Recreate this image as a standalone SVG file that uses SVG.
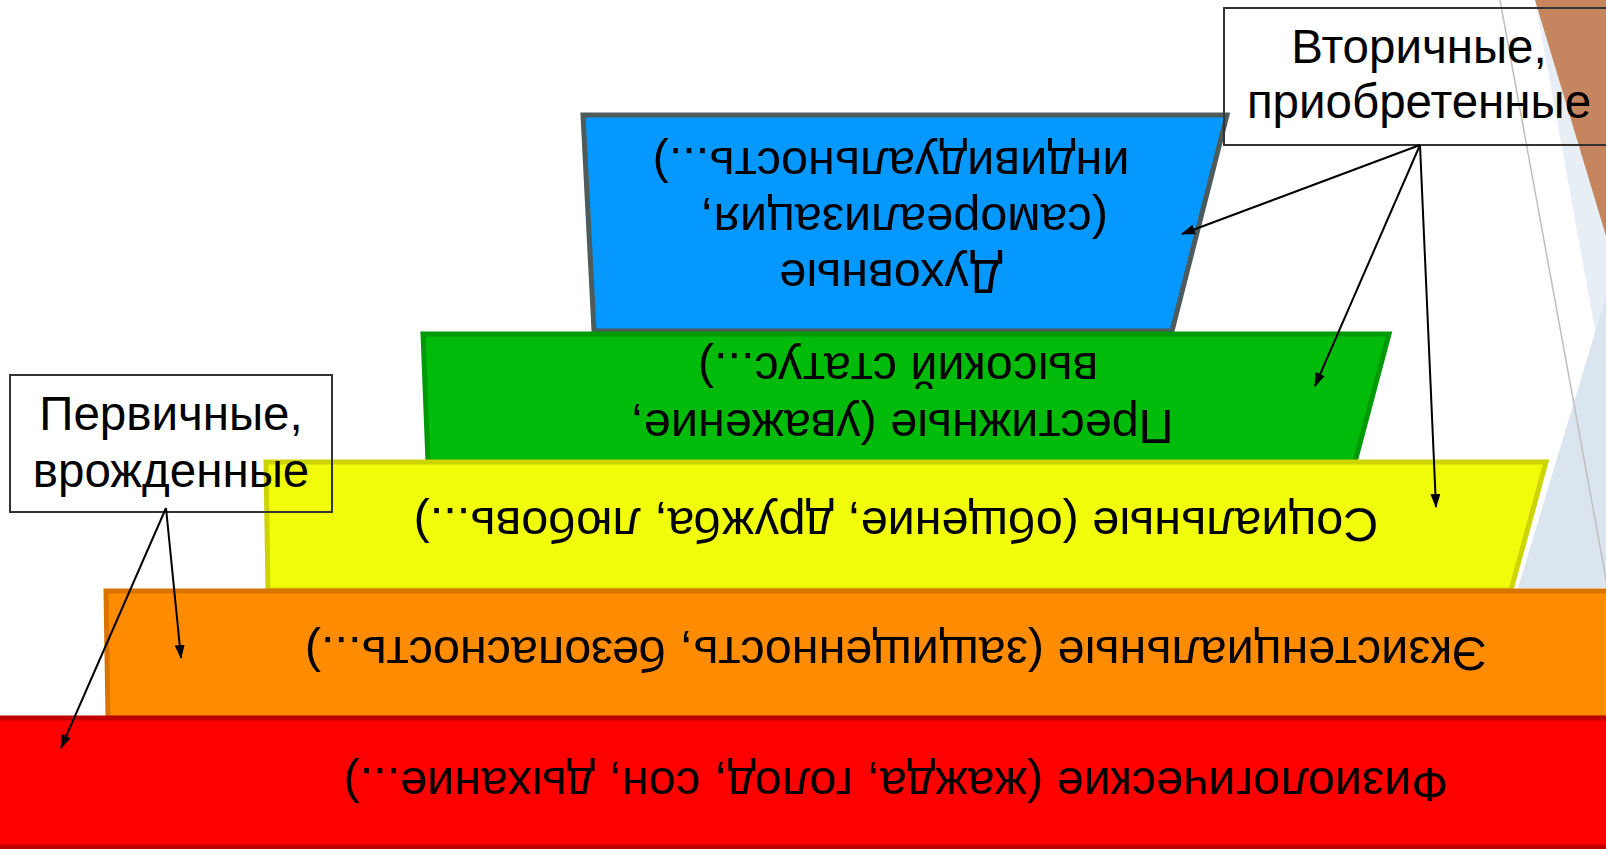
<svg xmlns="http://www.w3.org/2000/svg" width="1606" height="849" viewBox="0 0 1606 849">
<defs>
<style>
.t{font-family:"Liberation Sans",Arial,sans-serif;font-size:48.5px;fill:#000;text-anchor:middle}
.l{font-family:"Liberation Sans",Arial,sans-serif;font-size:47.5px;fill:#000;text-anchor:middle}
.lbl{fill:none;stroke:#333;stroke-width:2}
.con{stroke:#000;stroke-width:2;fill:none;marker-end:url(#ah)}
</style>
<marker id="ah" markerUnits="userSpaceOnUse" markerWidth="14" markerHeight="10" refX="13" refY="5" orient="auto">
<path d="M0,0 L14,5 L0,10 Z" fill="#000"/>
</marker>
</defs>
<rect width="1606" height="849" fill="#fff"/>
<g id="background">
<polygon points="1535,0 1606,0 1606,390" fill="#e8eef6"/>
<polygon points="1606,296 1518,588 1606,588" fill="#dbe5ef"/>
<polygon points="1535,0 1606,0 1606,236" fill="#c5855f"/>
<line x1="1500" y1="0" x2="1608" y2="590" stroke="#bfbfbf" stroke-width="1.5"/>
</g>
<g id="blue">
<polygon points="583,115 1227,115 1172,331 594,331" fill="#0598fe" stroke="#4e5b5b" stroke-width="5"/>
<text class="t" transform="translate(891,260) rotate(180)">Духовные</text>
<text class="t" transform="translate(904,204) rotate(180)">(самореализация,</text>
<text class="t" transform="translate(891,148) rotate(180)">индивидуальность...)</text>
</g>
<g id="green">
<polygon points="423,334 1389,334 1355,462 428,462" fill="#00bb0a" stroke="#009a08" stroke-width="5"/>
<text class="t" transform="translate(902,410) rotate(180)">Престижные (уважение,</text>
<text class="t" transform="translate(898,353) rotate(180)">высокий статус...)</text>
</g>
<g id="yellow">
<polygon points="266,462 1546,462 1511,590 268,590" fill="#f0fc0a" stroke="#cdd400" stroke-width="5"/>
<text class="t" transform="translate(896,508) rotate(180)">Социальные (общение, дружба, любовь...)</text>
</g>
<g id="orange">
<polygon points="106,591 1620,591 1620,718 108,718" fill="#ff8c00" stroke="#d97400" stroke-width="5"/>
<text class="t" transform="translate(896,637) rotate(180)">Экзистенциальные (защищенность, безопасность...)</text>
</g>
<g id="red">
<polygon points="-10,718 1620,718 1620,847 -10,847" fill="#ff0000" stroke="#c00000" stroke-width="5"/>
<text class="t" transform="translate(896,768) rotate(180)">Физиологические (жажда, голод, сон, дыхание...)</text>
</g>
<g id="label-secondary">
<rect class="lbl" x="1224" y="8" width="392" height="137"/>
<text class="l" x="1419" y="63">Вторичные,</text>
<text class="l" x="1419" y="118">приобретенные</text>
</g>
<g id="label-primary">
<rect class="lbl" x="10" y="375" width="322" height="137"/>
<text class="l" x="171" y="430">Первичные,</text>
<text class="l" x="171" y="487">врожденные</text>
</g>
<g id="connectors">
<line class="con" x1="1420" y1="145" x2="1182" y2="234"/>
<line class="con" x1="1420" y1="145" x2="1315" y2="386"/>
<line class="con" x1="1420" y1="145" x2="1436" y2="507"/>
<line class="con" x1="166" y1="508" x2="181" y2="658"/>
<line class="con" x1="166" y1="508" x2="61" y2="748"/>
</g>
</svg>
